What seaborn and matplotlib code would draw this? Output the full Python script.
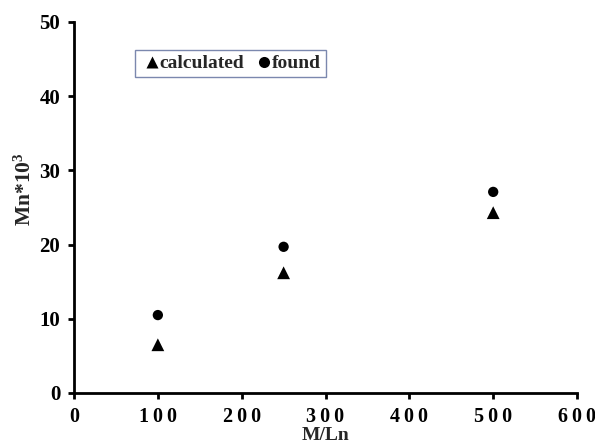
import matplotlib
matplotlib.use("Agg")
import matplotlib.pyplot as plt
import seaborn as sns
import pandas as pd

ratio = [100, 250, 500]
calculated = [6.5, 16.2, 24.3]
found = [10.5, 19.7, 27.1]
xticks = [0, 100, 200, 300, 400, 500, 600]
yticks = [0, 10, 20, 30, 40, 50]

sns.set_style("white")
plt.rcParams['font.family'] = ['Liberation Serif', 'DejaVu Serif']
plt.rcParams['font.weight'] = 'bold'
plt.rcParams['mathtext.default'] = 'regular'

df = pd.concat([
    pd.DataFrame({"M/Ln": ratio, "Mn": calculated, "series": "calculated"}),
    pd.DataFrame({"M/Ln": ratio, "Mn": found, "series": "found"}),
])

fig = plt.figure(figsize=(5.95, 4.44), dpi=100)
ax = fig.add_axes([0.1244, 0.1149, 0.8454, 0.8356])
sns.scatterplot(data=df, x="M/Ln", y="Mn", hue="series", style="series", size="series",
                markers={"calculated": "^", "found": "o"},
                palette={"calculated": "black", "found": "black"},
                sizes={"calculated": 85, "found": 55},
                edgecolor="none", ax=ax, legend=True)
ax.set_xlim(0, 600)
ax.set_ylim(0, 50)
ax.set_xticks(xticks)
ax.set_yticks(yticks)
ax.set_xticklabels(["\u2009".join(str(t)) for t in xticks], fontsize=14.5, fontweight='bold')
ax.set_yticklabels([str(t) for t in yticks], fontsize=15, fontweight='bold')
ax.set_xlabel("M/Ln", fontsize=14, fontweight='bold', labelpad=0)
ax.set_ylabel("Mn*10$^3$", fontsize=15.5, fontweight='bold')
ax.yaxis.set_label_coords(-0.076, 0.55)
for s in ["top", "right"]:
    ax.spines[s].set_visible(False)
for s in ["left", "bottom"]:
    ax.spines[s].set_linewidth(2)
    ax.spines[s].set_color("black")
ax.tick_params(axis='both', direction='out', length=4, width=2, colors='black',
               bottom=True, left=True)
ax.tick_params(axis='x', pad=6)
ax.tick_params(axis='y', pad=6)

handles, labels = ax.get_legend_handles_labels()
for h in handles:
    h.set_markersize(8)
leg = ax.legend(handles, labels, loc="upper left", bbox_to_anchor=(0.122, 0.9245),
                ncol=2, frameon=True, fancybox=False,
                handletextpad=-0.2, columnspacing=0.4, borderpad=0.25,
                handlelength=1.2, borderaxespad=0,
                prop={'weight': 'bold', 'size': 14})
leg.get_frame().set_edgecolor("#5a6a9a")
leg.get_frame().set_linewidth(1)

fig.savefig("out.png", dpi=100)
